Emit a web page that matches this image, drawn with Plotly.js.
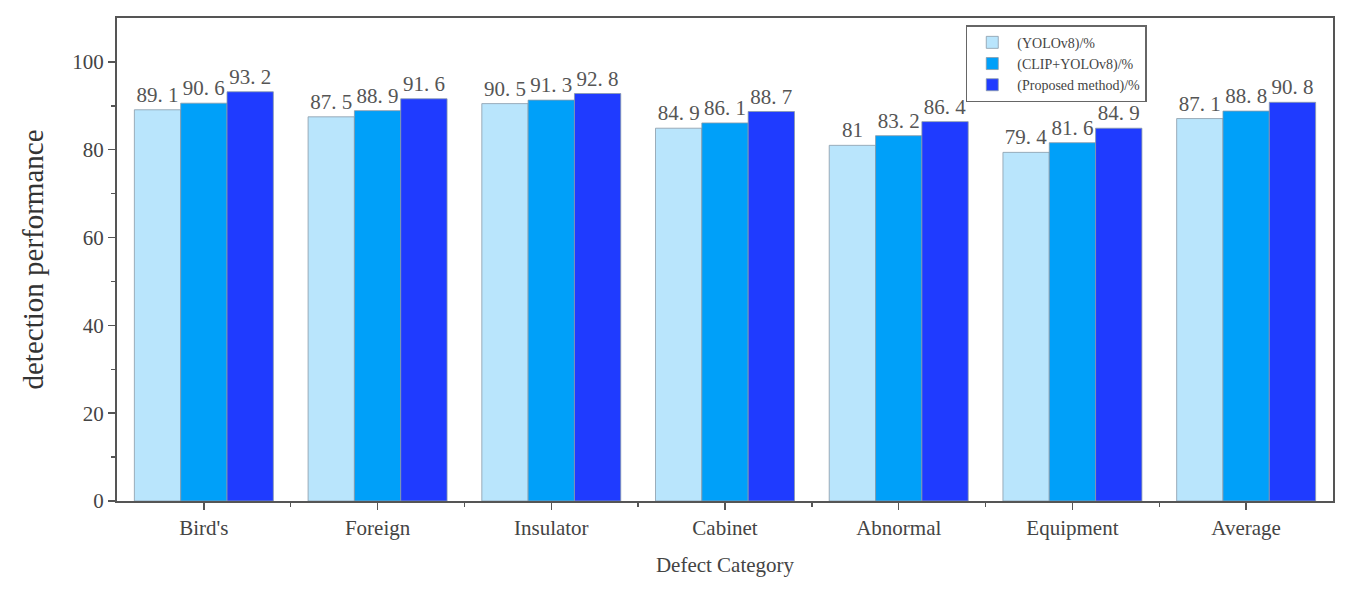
<!DOCTYPE html>
<html>
<head>
<meta charset="utf-8">
<script src="https://cdn.plot.ly/plotly-3.0.1.min.js"></script>
<style>
  html, body { margin: 0; padding: 0; background: #fff; }
  #plot1 { width: 1355px; height: 598px; }
</style>
</head>
<body>
<div id="plot1"></div>
<script>
// data
const categories = [ "Bird's", 'Foreign', 'Insulator', 'Cabinet', 'Abnormal', 'Equipment', 'Average' ];
const seriesNames = [ '(YOLOv8)/%', '(CLIP+YOLOv8)/%', '(Proposed method)/%' ];
const yolo = [ 89.1, 87.5, 90.5, 84.9, 81, 79.4, 87.1 ];
const clipYolo = [ 90.6, 88.9, 91.3, 86.1, 83.2, 81.6, 88.8 ];
const proposed = [ 93.2, 91.6, 92.8, 88.7, 86.4, 84.9, 90.8 ];
const barColors = [ '#b9e5fc', '#00a0f9', '#1f3bff' ];

const serif = 'Liberation Serif, DejaVu Serif, serif';
const xIdx = categories.map((c, i) => i);

// "89.1" -> "89. 1" like the figure
function labelOf(v) { return String(v).replace('.', '. '); }

const dataTemp = [ yolo, clipYolo, proposed ].map((vals, k) => ({
  type: 'bar',
  name: seriesNames[k],
  x: xIdx,
  y: vals,
  text: vals.map(labelOf),
  textposition: 'outside',
  cliponaxis: false,
  textfont: { family: serif, size: 21, color: '#555' },
  marker: { color: barColors[k], line: { color: '#8a9aa8', width: 0.8 } },
  hoverinfo: 'x+y',
}));

const layoutBar = {
  width: 1355,
  height: 598,
  margin: { l: 117, r: 22, t: 18, b: 97 },
  paper_bgcolor: '#fff',
  plot_bgcolor: '#fff',
  barmode: 'group',
  bargap: 0.2,
  bargroupgap: 0,
  showlegend: true,
  legend: {
    x: 0.698, y: 0.985, xanchor: 'left', yanchor: 'top',
    bgcolor: '#fff', bordercolor: '#666', borderwidth: 1.5,
    font: { family: serif, size: 14, color: '#444' },
    itemwidth: 40, tracegroupgap: 0,
  },
  xaxis: {
    type: 'linear',
    range: [ -0.5, 6.5 ],
    tickvals: xIdx,
    ticktext: categories,
    ticks: 'outside', ticklen: 7, tickwidth: 1.5, tickcolor: '#555',
    minor: { tickvals: [ 0.5, 1.5, 2.5, 3.5, 4.5, 5.5 ], ticks: 'outside', ticklen: 4, tickwidth: 1.5, tickcolor: '#555' },
    showline: true, linecolor: '#555', linewidth: 2, mirror: true,
    showgrid: false, zeroline: false,
    tickfont: { family: serif, size: 21, color: '#444' },
    title: { text: 'Defect Category', font: { family: serif, size: 21, color: '#444' }, standoff: 18 },
  },
  yaxis: {
    range: [ 0, 110 ],
    tickvals: [ 0, 20, 40, 60, 80, 100 ],
    ticks: 'outside', ticklen: 7, tickwidth: 1.5, tickcolor: '#555',
    minor: { tickvals: [ 10, 30, 50, 70, 90 ], ticks: 'outside', ticklen: 4, tickwidth: 1.5, tickcolor: '#555' },
    showline: true, linecolor: '#555', linewidth: 2, mirror: true,
    showgrid: false, zeroline: false,
    tickfont: { family: serif, size: 21, color: '#444' },
    title: { text: 'detection performance', font: { family: serif, size: 29, color: '#333' }, standoff: 20 },
  },
};

Plotly.newPlot('plot1', dataTemp, layoutBar, { displayModeBar: false, staticPlot: true });
</script>
</body>
</html>
